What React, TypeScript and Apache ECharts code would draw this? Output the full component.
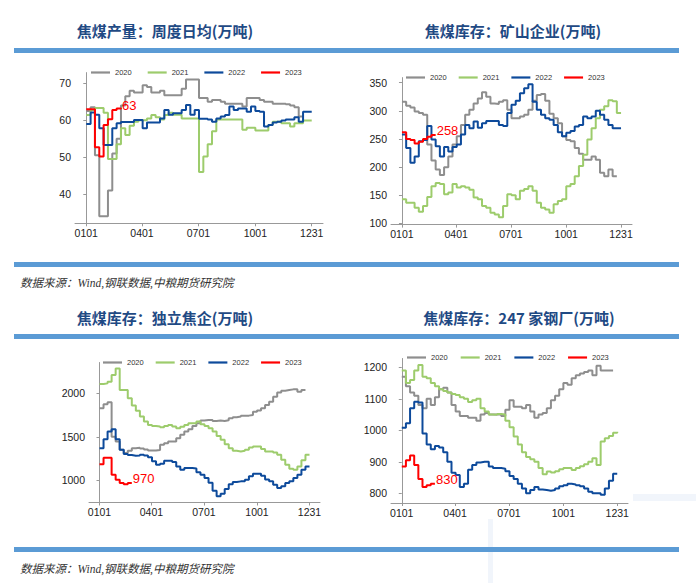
import React, { useEffect, useRef } from "react";
import * as echarts from "echarts";

const YEARS = ["2020", "2021", "2022", "2023"];
const COLORS = ["#8E8E8E", "#9DCC6C", "#0D4A9B", "#FF0000"];
const X_TICK_DAYS = [0, 90, 181, 273, 364];
const X_TICK_LABELS = ["0101", "0401", "0701", "1001", "1231"];

const TITLES = [
  "焦煤产量：周度日均(万吨)",
  "焦煤库存：矿山企业(万吨)",
  "焦煤库存：独立焦企(万吨)",
  "焦煤库存：247 家钢厂(万吨)",
];
const SOURCE = "数据来源：Wind,钢联数据,中粮期货研究院";

// Chart 1: 焦煤产量 周度日均 (weekly values)
const PROD_2020 = [62.5, 63.5, 50.5, 34, 34, 41, 51, 55, 64, 66.5, 68, 67.5, 67.5, 69.5, 69, 67.5, 67.5, 68, 66.8, 66.8, 66.8, 66.8, 68.5, 71, 71, 71, 66, 66, 65, 65.5, 65.5, 65, 64.5, 64.5, 64.5, 64.5, 63.7, 66, 66, 66, 65.5, 65, 65, 64.5, 64.5, 64.5, 64.3, 64, 63.5, 61, 61];
const PROD_2021 = [61.4, 62.8, 63.3, 63.3, 62, 49.5, 49.5, 53.5, 57.8, 56, 58.5, 59.6, 60, 60, 60.5, 61.4, 60.8, 60.2, 61.4, 62, 61.5, 61.5, 60.5, 60.5, 60.5, 60.5, 46, 50.2, 53.5, 57, 60.2, 60.2, 60.2, 60.2, 60.2, 60.2, 57.4, 58, 58, 57.2, 57.2, 57.2, 58.7, 59.6, 59.6, 59.2, 59.2, 58.3, 59.2, 59.2, 59.9, 59.9, 59.9];
const PROD_2022 = [59, 62.1, 61.5, 57.8, 53.3, 53.3, 57.8, 59.2, 59.5, 59.5, 59.5, 60.1, 60.1, 57.8, 59.4, 59.4, 59.4, 60.5, 62.8, 61.5, 61.9, 61.9, 62.8, 64.1, 61.5, 62.8, 60.4, 60.4, 60.2, 59.6, 60.5, 61, 61.4, 63.7, 62.8, 63.2, 63.2, 62.3, 63.7, 62.5, 62.3, 58.3, 58.7, 59.4, 59.6, 59.9, 60.2, 60.2, 60.8, 59.6, 62.3, 62.3, 62.3];
const PROD_2023 = [63, 63, 52.7, 50.2, 58.7, 60.3, 62.8, 63.2, 63];

// Chart 2: 矿山企业库存
const MINE_2020 = [316, 309, 306, 299, 296, 293, 240, 212, 196, 186, 200, 219, 240, 255, 275, 293, 302, 313, 322, 333, 325, 313, 312, 316, 319, 302, 287, 287, 290, 293, 302, 318, 328, 330, 318, 295, 287, 278, 255, 248, 246, 234, 224, 213, 213, 219, 213, 190, 184, 196, 184, 184];
const MINE_2021 = [143, 137, 137, 128, 121, 131, 147, 166, 172, 170, 152, 155, 170, 164, 166, 164, 160, 146, 143, 131, 128, 119, 116, 111, 131, 152, 150, 143, 158, 161, 166, 158, 137, 128, 125, 119, 134, 140, 143, 166, 170, 184, 202, 222, 249, 269, 287, 302, 308, 319, 317, 296, 296];
const MINE_2022 = [258, 234, 208, 219, 246, 248, 273, 249, 237, 219, 236, 228, 236, 240, 258, 275, 269, 281, 270, 278, 282, 282, 282, 275, 273, 296, 311, 318, 331, 340, 347, 316, 302, 293, 287, 284, 275, 262, 255, 261, 264, 272, 275, 290, 287, 290, 300, 293, 284, 275, 269, 269, 269];
const MINE_2023 = [262, 250, 248, 242, 245, 250, 254, 257, 258];

// Chart 3: 独立焦企库存
const COKE_2020 = [1830, 1874, 1897, 1500, 1447, 1351, 1313, 1340, 1370, 1375, 1365, 1355, 1344, 1344, 1350, 1408, 1427, 1446, 1446, 1485, 1523, 1561, 1588, 1626, 1656, 1687, 1695, 1695, 1683, 1687, 1683, 1690, 1714, 1725, 1733, 1744, 1744, 1752, 1790, 1802, 1828, 1866, 1905, 1962, 2011, 2030, 2038, 2046, 2046, 2019, 2038, 2038];
const COKE_2021 = [2107, 2115, 2134, 2210, 2286, 2038, 2038, 1943, 1860, 1800, 1733, 1676, 1637, 1626, 1620, 1611, 1626, 1637, 1620, 1599, 1615, 1637, 1656, 1656, 1676, 1645, 1626, 1600, 1561, 1510, 1466, 1416, 1370, 1340, 1332, 1340, 1351, 1378, 1389, 1389, 1359, 1332, 1332, 1321, 1294, 1237, 1179, 1134, 1122, 1160, 1230, 1294, 1294];
const COKE_2022 = [1370, 1473, 1561, 1588, 1473, 1351, 1302, 1290, 1282, 1285, 1294, 1285, 1265, 1218, 1179, 1190, 1225, 1225, 1210, 1160, 1122, 1141, 1141, 1135, 1092, 1065, 1027, 973, 880, 817, 847, 900, 955, 980, 988, 990, 1008, 1046, 1076, 1076, 1053, 1010, 990, 950, 912, 931, 970, 990, 1027, 1065, 1122, 1160, 1160];
const COKE_2023 = [1185, 1260, 1260, 1065, 1008, 970, 955, 970, 970];

// Chart 4: 247家钢厂库存
const STEEL_2020 = [1170, 1140, 1120, 1110, 1080, 1070, 1100, 1080, 1105, 1130, 1135, 1120, 1080, 1060, 1045, 1045, 1040, 1040, 1030, 1050, 1055, 1050, 1050, 1050, 1045, 1065, 1095, 1075, 1075, 1070, 1080, 1060, 1040, 1050, 1055, 1070, 1095, 1110, 1130, 1150, 1145, 1165, 1175, 1180, 1185, 1190, 1175, 1205, 1190, 1190, 1190, 1190];
const STEEL_2021 = [1190, 1150, 1160, 1190, 1207, 1170, 1165, 1150, 1140, 1130, 1125, 1120, 1115, 1112, 1105, 1100, 1090, 1095, 1100, 1070, 1060, 1050, 1049, 1052, 1050, 1030, 1010, 980, 955, 930, 915, 908, 900, 880, 860, 869, 866, 870, 876, 880, 880, 874, 880, 886, 892, 900, 911, 890, 964, 975, 982, 992, 995];
const STEEL_2022 = [1008, 1022, 1070, 1091, 1088, 990, 955, 940, 950, 945, 930, 900, 865, 858, 820, 830, 875, 890, 898, 900, 900, 885, 880, 880, 878, 870, 855, 845, 830, 815, 800, 810, 820, 812, 810, 808, 810, 815, 822, 825, 830, 828, 825, 822, 815, 805, 800, 800, 795, 815, 840, 862, 862];
const STEEL_2023 = [885, 905, 920, 890, 845, 820, 825, 830, 830];

const Y_TICKS = [
  [40, 50, 60, 70],
  [100, 150, 200, 250, 300, 350],
  [1000, 1500, 2000],
  [800, 900, 1000, 1100, 1200],
];
const Y_RANGES = [
  [32.1, 72.9],
  [98, 359],
  [745, 2355],
  [769, 1228],
];

const PANELS = [
  [PROD_2020, PROD_2021, PROD_2022, PROD_2023],
  [MINE_2020, MINE_2021, MINE_2022, MINE_2023],
  [COKE_2020, COKE_2021, COKE_2022, COKE_2023],
  [STEEL_2020, STEEL_2021, STEEL_2022, STEEL_2023],
];

// layout (pixels)
const GRIDS = [
  { left: 75, top: 72.6, width: 248, height: 150.7 },
  { left: 391, top: 77.6, width: 241, height: 147 },
  { left: 89, top: 362.5, width: 231, height: 140 },
  { left: 391, top: 358.5, width: 237, height: 144.5 },
];
const LEGEND_POS = [
  { left: 91, top: 68.5, gap: 16 },
  { left: 406, top: 73.5, gap: 12 },
  { left: 103, top: 358.5, gap: 12 },
  { left: 407, top: 353.5, gap: 13 },
];
const TITLE_POS = [
  [165, 30],
  [513, 30],
  [165, 317],
  [519, 317],
];
const BAR_YS = [48, 262, 334, 547];
const SOURCE_YS = [283, 569];

const LABEL_FONT = "'Liberation Sans', Arial, sans-serif";

export default function App() {
  const ref = useRef<HTMLDivElement>(null);
  useEffect(() => {
    if (!ref.current) return;
    const chart = echarts.init(ref.current, undefined, { renderer: "svg" });

    const xAxes: any[] = [];
    const yAxes: any[] = [];
    const series: any[] = [];
    const legends: any[] = [];

    PANELS.forEach((panel, p) => {
      xAxes.push({
        type: "value",
        gridIndex: p,
        min: -18.2,
        max: 382.2,
        axisLine: { show: true, lineStyle: { color: "#999", width: 1 } },
        axisTick: { show: true, length: 3, customValues: X_TICK_DAYS, lineStyle: { color: "#999" } },
        axisLabel: {
          customValues: X_TICK_DAYS,
          formatter: (v: number) => X_TICK_LABELS[X_TICK_DAYS.indexOf(Math.round(v))] ?? "",
          color: "#222",
          fontSize: 10.5,
          fontFamily: LABEL_FONT,
          margin: 4,
        },
        splitLine: { show: false },
      });
      yAxes.push({
        type: "value",
        gridIndex: p,
        min: Y_RANGES[p][0],
        max: Y_RANGES[p][1],
        axisLine: { show: true, lineStyle: { color: "#999", width: 1 } },
        axisTick: { show: true, length: 3, customValues: Y_TICKS[p], lineStyle: { color: "#999" } },
        axisLabel: {
          customValues: Y_TICKS[p],
          formatter: (v: number) => String(Math.round(v)),
          color: "#222",
          fontSize: 10.5,
          fontFamily: LABEL_FONT,
          margin: 4,
        },
        splitLine: { show: false },
      });
      panel.forEach((vals, k) => {
        const s: any = {
          type: "line",
          name: YEARS[k],
          xAxisIndex: p,
          yAxisIndex: p,
          step: "end",
          symbol: "none",
          z: 2 + k,
          lineStyle: { color: COLORS[k], width: 2 },
          itemStyle: { color: COLORS[k] },
          data: vals.map((v, i) => [i * 7, v]),
        };
        if (k === 3) {
          s.endLabel = {
            show: true,
            distance: 1,
            offset: [0, -4],
            color: "#FF0000",
            fontSize: 13,
            fontFamily: LABEL_FONT,
            formatter: (prm: any) => String(prm.value[1]),
          };
        }
        series.push(s);
      });
      legends.push({
        data: YEARS.map((y) => ({ name: y, icon: "rect" })),
        left: LEGEND_POS[p].left,
        top: LEGEND_POS[p].top,
        orient: "horizontal",
        itemWidth: 19,
        itemHeight: 2.2,
        itemGap: LEGEND_POS[p].gap,
        padding: 0,
        textStyle: { fontSize: 7.5, color: "#333", fontFamily: LABEL_FONT },
      });
    });

    const graphics: any[] = [];
    BAR_YS.forEach((y) => {
      graphics.push({ type: "rect", shape: { x: 14, y, width: 665, height: 5 }, style: { fill: "#5B9BD5" }, silent: true });
    });
    TITLES.forEach((t, i) => {
      graphics.push({
        type: "text",
        x: TITLE_POS[i][0],
        y: TITLE_POS[i][1],
        style: {
          text: t,
          fill: "#1F4A84",
          font: "bold 15px 'Noto Sans CJK SC', sans-serif",
          align: "center",
          verticalAlign: "middle",
        },
      });
    });
    SOURCE_YS.forEach((y) => {
      graphics.push({
        type: "text",
        x: 20,
        y,
        style: {
          text: SOURCE,
          fill: "#333",
          font: "italic 11.5px 'Liberation Serif', 'Noto Sans CJK SC', serif",
          align: "left",
          verticalAlign: "middle",
        },
      });
    });
    // faint watermark strokes
    graphics.push({ type: "rect", shape: { x: 633, y: 494, width: 63, height: 7 }, style: { fill: "#F1F5FB" }, silent: true, z: -1 });
    graphics.push({ type: "rect", shape: { x: 488, y: 519, width: 5, height: 64 }, style: { fill: "#F1F5FB" }, silent: true, z: -1 });

    chart.setOption({
      animation: false,
      backgroundColor: "#ffffff",
      grid: GRIDS.map((g) => ({ ...g, containLabel: false })),
      xAxis: xAxes,
      yAxis: yAxes,
      legend: legends,
      series,
      graphic: graphics,
    });
    return () => chart.dispose();
  }, []);
  return (
    <div
      ref={ref}
      style={{ position: "absolute", left: 0, top: 0, width: 696, height: 583 }}
    />
  );
}
